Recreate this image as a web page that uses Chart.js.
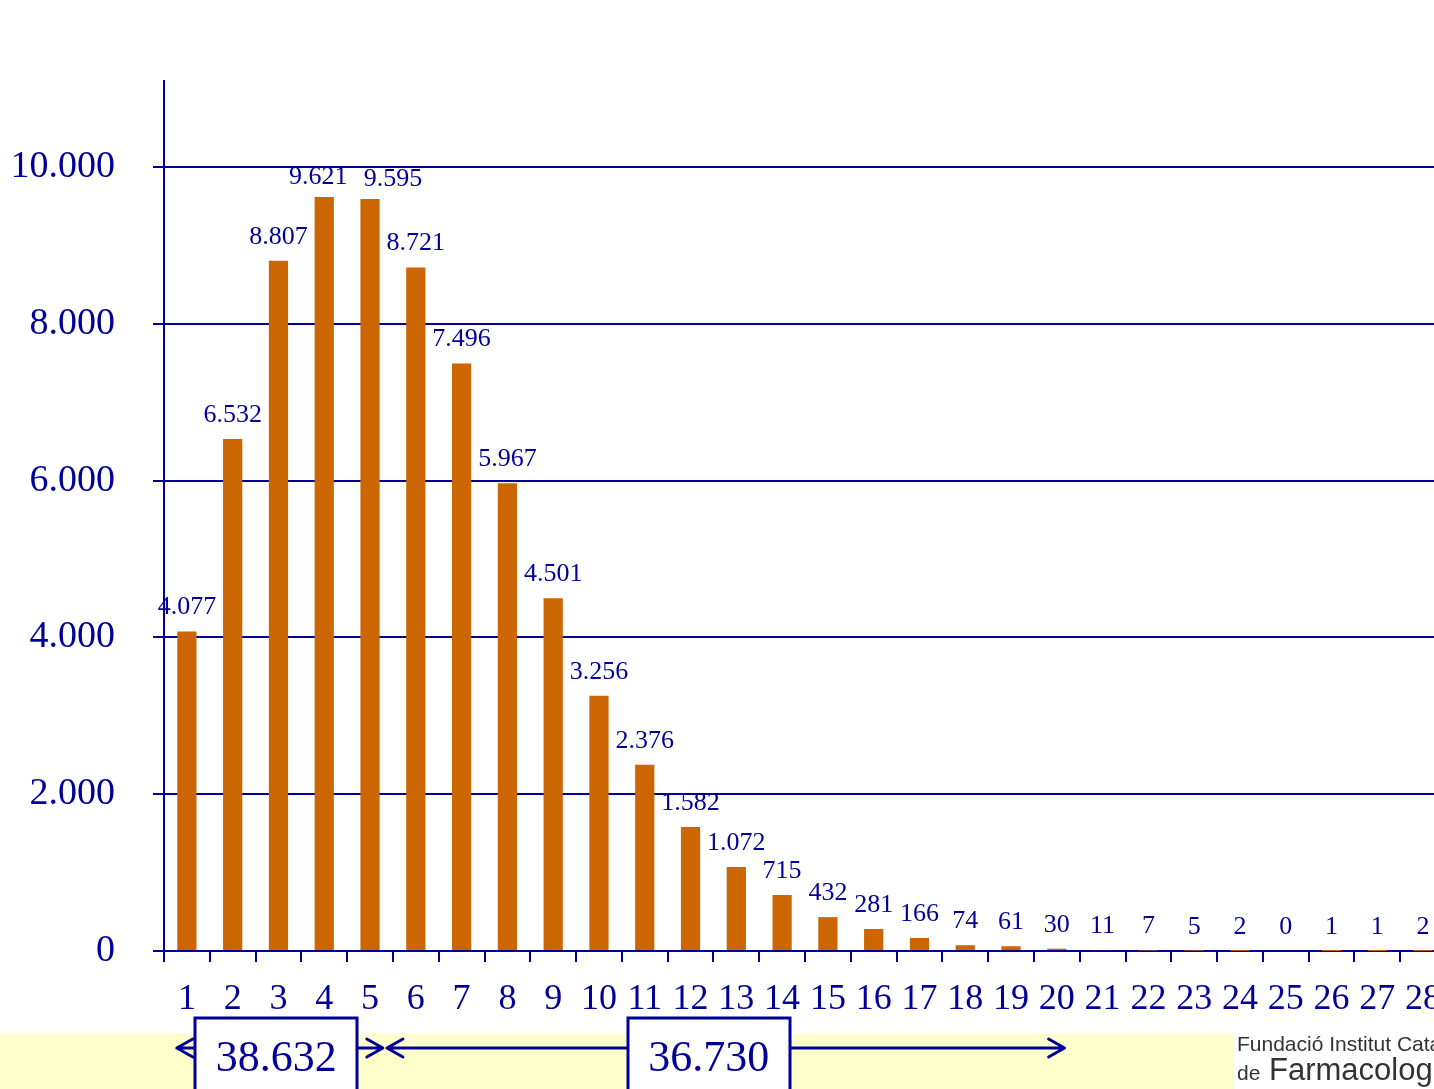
<!DOCTYPE html>
<html>
<head>
<meta charset="utf-8">
<script src="https://cdn.jsdelivr.net/npm/chart.js@4.4.1/dist/chart.umd.min.js"></script>
<style>
  html, body { margin: 0; padding: 0; background: #fff; overflow: hidden; width: 1434px; height: 1089px; }
  #wrap { position: absolute; left: 0; top: 0; width: 1460px; height: 1089px; }
</style>
</head>
<body>
<div id="wrap"><canvas id="chart" width="1460" height="1089"></canvas></div>
<script>
// Number of patients by number of items (1..28)
const categories = ['1','2','3','4','5','6','7','8','9','10','11','12','13','14',
  '15','16','17','18','19','20','21','22','23','24','25','26','27','28'];
const counts = [4077, 6532, 8807, 9621, 9595, 8721, 7496, 5967, 4501, 3256, 2376, 1582,
  1072, 715, 432, 281, 166, 74, 61, 30, 11, 7, 5, 2, 0, 1, 1, 2];
const yTicks = [0, 2000, 4000, 6000, 8000, 10000];

// Category ranges summed in the boxes under the axis (1-based, inclusive)
const groupRanges = [[1, 5], [6, 20]];

const navy = '#000099';
const barColor = '#CC6600';

function fmt(v) {
  return String(v).replace(/\B(?=(\d{3})+(?!\d))/g, '.');
}

// two neighbouring tall bars: nudge their labels apart
const labelNudge = { 3: [-6, 4], 4: [23, 4] };

// value labels on top of each bar
const valueLabels = {
  id: 'valueLabels',
  afterDatasetsDraw(chart) {
    const ctx = chart.ctx;
    const meta = chart.getDatasetMeta(0);
    ctx.save();
    ctx.fillStyle = navy;
    ctx.font = '26px "Liberation Serif", "Times New Roman", serif';
    ctx.textAlign = 'center';
    ctx.textBaseline = 'alphabetic';
    meta.data.forEach((bar, i) => {
      const n = labelNudge[i] || [0, 0];
      ctx.fillText(fmt(counts[i]), bar.x + n[0], bar.y - 17 + n[1]);
    });
    ctx.restore();
  }
};

// yellow band, summary boxes with arrows and the foundation name
const footer = {
  id: 'footer',
  afterDraw(chart) {
    const ctx = chart.ctx;
    const x = chart.scales.x;
    const step = (x.getPixelForValue(1) - x.getPixelForValue(0));
    const px = v => x.getPixelForValue(0) + v * step;
    const arrowY = 1048;

    ctx.save();
    ctx.fillStyle = '#FFFFCC';
    ctx.fillRect(0, 1034, 1234, 60);

    // arrow tips and box centres in category units
    const layout = [
      { from: -0.22, to: 4.28, box: 1.95, w: 162 },
      { from: 4.37, to: 19.17, box: 11.4, w: 162 }
    ];

    ctx.strokeStyle = navy;
    ctx.lineWidth = 3;
    ctx.lineCap = 'round';
    ctx.lineJoin = 'round';
    groupRanges.forEach((r, gi) => {
      const l = layout[gi];
      const x1 = px(l.from), x2 = px(l.to);
      ctx.beginPath();
      ctx.moveTo(x1, arrowY);
      ctx.lineTo(x2, arrowY);
      // left head
      ctx.moveTo(x1 + 16, arrowY - 9);
      ctx.lineTo(x1, arrowY);
      ctx.lineTo(x1 + 16, arrowY + 9);
      // right head
      ctx.moveTo(x2 - 16, arrowY - 9);
      ctx.lineTo(x2, arrowY);
      ctx.lineTo(x2 - 16, arrowY + 9);
      ctx.stroke();
    });
    ctx.lineCap = 'butt';
    ctx.lineJoin = 'miter';

    groupRanges.forEach((r, gi) => {
      const l = layout[gi];
      const total = counts.slice(r[0] - 1, r[1]).reduce((a, b) => a + b, 0);
      const cx = px(l.box);
      const bx = Math.round(cx - l.w / 2);
      ctx.fillStyle = '#fff';
      ctx.fillRect(bx, 1018, l.w, 80);
      ctx.strokeStyle = navy;
      ctx.lineWidth = 3;
      ctx.strokeRect(bx, 1018, l.w, 80);
      ctx.fillStyle = navy;
      ctx.font = '44px "Liberation Serif", "Times New Roman", serif';
      ctx.textAlign = 'center';
      ctx.textBaseline = 'alphabetic';
      ctx.fillText(fmt(total), cx, 1071);
    });

    ctx.fillStyle = '#333';
    ctx.textAlign = 'left';
    ctx.font = '21px "Liberation Sans", Arial, sans-serif';
    ctx.fillText('Fundació Institut Catalana', 1237, 1051);
    ctx.fillText('de', 1237, 1080);
    ctx.font = '31px "Liberation Sans", Arial, sans-serif';
    ctx.fillText('Farmacologia', 1269, 1080);
    ctx.restore();
  }
};

const ctx = document.getElementById('chart').getContext('2d');
const chart = new Chart(ctx, {
  type: 'bar',
  data: {
    labels: categories,
    datasets: [{
      data: counts,
      backgroundColor: barColor,
      borderWidth: 0,
      barPercentage: 0.42,
      categoryPercentage: 1
    }]
  },
  options: {
    responsive: false,
    animation: false,
    layout: { padding: { top: 81, left: 0, right: 14, bottom: 0 } },
    plugins: {
      legend: { display: false },
      tooltip: { enabled: false }
    },
    scales: {
      x: {
        afterFit(scale) { scale.height = 138; },
        border: { color: navy, width: 2 },
        grid: {
          offset: true,
          drawOnChartArea: false,
          drawTicks: true,
          tickLength: 11,
          color: navy,
          lineWidth: 2
        },
        ticks: {
          color: navy,
          padding: 16,
          maxRotation: 0,
          autoSkip: false,
          font: { family: '"Liberation Serif", "Times New Roman", serif', size: 36 }
        }
      },
      y: {
        min: 0,
        max: 11100,
        afterFit(scale) { scale.width = 164; },
        afterBuildTicks(scale) {
          scale.ticks = yTicks.map(v => ({ value: v }));
        },
        border: { color: navy, width: 2 },
        grid: {
          color: navy,
          lineWidth: 2,
          drawTicks: true,
          tickLength: 11
        },
        ticks: {
          color: navy,
          padding: 38,
          callback: v => fmt(v),
          font: { family: '"Liberation Serif", "Times New Roman", serif', size: 38 }
        }
      }
    }
  },
  plugins: [valueLabels, footer]
});
</script>
</body>
</html>
